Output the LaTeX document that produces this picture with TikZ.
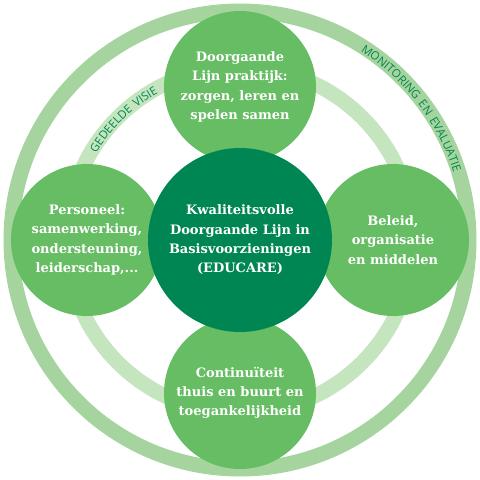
\documentclass[tikz,border=0pt]{standalone}
\usepackage{fontspec}
\setmainfont{DejaVu Serif}
\setsansfont{Open Sans}
\usetikzlibrary{decorations.text}
\definecolor{darkgreen}{RGB}{0,134,82}
\definecolor{midgreen}{RGB}{102,189,99}
\definecolor{ringouter}{RGB}{165,212,158}
\definecolor{ringinner}{RGB}{197,229,191}
\tikzset{
  bubble/.style={circle, fill=midgreen, minimum size=152pt, inner sep=0pt,
    align=center, text=white, font=\bfseries\fontsize{13}{19.3}\selectfont},
  core/.style={bubble, fill=darkgreen, minimum size=184pt},
  ringtext/.style={decorate, decoration={text along path, text align=center, text color=darkgreen}}
}

\begin{document}
\begin{tikzpicture}
\useasboundingbox (-240pt,-240pt) rectangle (240pt,240pt);
\draw[ringouter, line width=15pt] (0,0) circle[radius=229pt];
\draw[ringinner, line width=15pt] (0,0) circle[radius=173pt];
\node[bubble] (practice) at (0,153pt) {Doorgaande\\Lijn praktijk:\\zorgen, leren en\\spelen samen};
\node[bubble] (staff) at (-153pt,0) {Personeel:\\samenwerking,\\ondersteuning,\\leiderschap,...};
\node[bubble] (policy) at (153pt,0) {Beleid,\\organisatie\\en middelen};
\node[bubble] (continuity) at (0,-153pt) {Continuïteit\\thuis en buurt en\\toegankelijkheid};
\node[core] (quality) at (0,0) {Kwaliteitsvolle\\Doorgaande Lijn in\\Basisvoorzieningen\\(EDUCARE)};
% ring labels
\sffamily\fontsize{11.5}{11.5}\selectfont
\path[ringtext, decoration={text={GEDEELDE{\hspace{4.5pt}}VISIE}}]
  (165:168pt) arc[start angle=165, end angle=103, radius=168pt];
\path[ringtext, decoration={text={MONITORING{\hspace{4.5pt}}EN{\hspace{4.5pt}}EVALUATIE}}]
  (80:224pt) arc[start angle=80, end angle=-5, radius=224pt];
\end{tikzpicture}
\end{document}
